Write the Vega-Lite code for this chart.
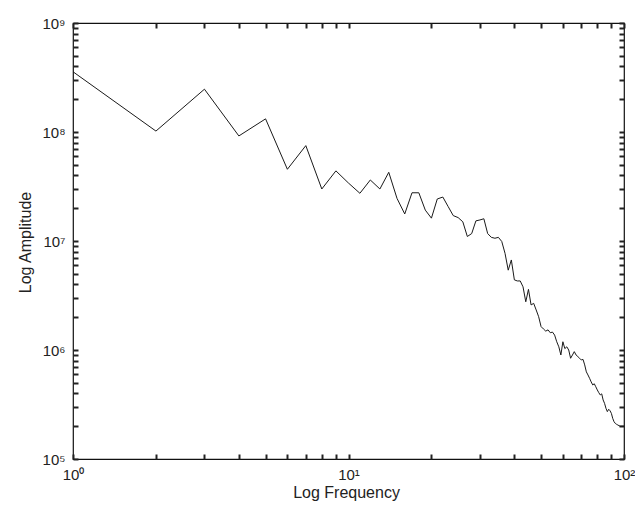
{
  "$schema": "https://vega.github.io/schema/vega-lite/v6.json",
  "width": 551,
  "height": 436,
  "autosize": {"type": "none"},
  "padding": {"left": 73, "top": 23, "right": 11, "bottom": 55},
  "background": "white",
  "config": {
    "view": {"stroke": "#111111", "strokeWidth": 1.2},
    "font": "Liberation Sans",
    "axis": {
      "grid": false,
      "domain": false,
      "offset": -5,
      "tickSize": 5,
      "tickColor": "#222222",
      "tickWidth": 2,
      "labelFont": "Liberation Sans",
      "labelFontSize": 15,
      "labelColor": "#222222",
      "labelPadding": 8,
      "labelFlush": false,
      "labelOverlap": false,
      "labelBound": false,
      "titleFont": "Liberation Sans",
      "titleFontSize": 16,
      "titleFontWeight": "normal",
      "titleColor": "#222222"
    }
  },
  "data": {
    "values": [
      {"f": 1, "amp": 357000000}, {"f": 2, "amp": 102000000}, {"f": 3, "amp": 247000000}, {"f": 4, "amp": 92000000},
      {"f": 5, "amp": 132000000}, {"f": 6, "amp": 45500000}, {"f": 7, "amp": 75000000}, {"f": 8, "amp": 30000000},
      {"f": 9, "amp": 44000000}, {"f": 10, "amp": 34000000}, {"f": 11, "amp": 27400000}, {"f": 12, "amp": 36300000},
      {"f": 13, "amp": 30000000}, {"f": 14, "amp": 42700000}, {"f": 15, "amp": 24600000}, {"f": 16, "amp": 17700000},
      {"f": 17, "amp": 27700000}, {"f": 18, "amp": 27700000}, {"f": 19, "amp": 19200000}, {"f": 20, "amp": 16200000},
      {"f": 21, "amp": 24300000}, {"f": 22, "amp": 25300000}, {"f": 23, "amp": 20700000}, {"f": 24, "amp": 17100000},
      {"f": 25, "amp": 16400000}, {"f": 26, "amp": 15000000}, {"f": 27, "amp": 11000000}, {"f": 28, "amp": 11700000},
      {"f": 29, "amp": 15300000}, {"f": 30, "amp": 15600000}, {"f": 31, "amp": 16000000}, {"f": 32, "amp": 11700000},
      {"f": 33, "amp": 10800000}, {"f": 34, "amp": 10600000}, {"f": 35, "amp": 10800000}, {"f": 36, "amp": 9900000},
      {"f": 37, "amp": 7700000}, {"f": 38, "amp": 5400000}, {"f": 39, "amp": 6700000}, {"f": 40, "amp": 4400000},
      {"f": 41, "amp": 4300000}, {"f": 42, "amp": 4300000}, {"f": 43, "amp": 3800000}, {"f": 44, "amp": 2770000},
      {"f": 45, "amp": 3600000}, {"f": 46, "amp": 2590000}, {"f": 47, "amp": 2680000}, {"f": 48, "amp": 2330000},
      {"f": 49, "amp": 2020000}, {"f": 50, "amp": 1640000}, {"f": 51, "amp": 1560000}, {"f": 52, "amp": 1490000},
      {"f": 53, "amp": 1530000}, {"f": 54, "amp": 1440000}, {"f": 55, "amp": 1460000}, {"f": 56, "amp": 1370000},
      {"f": 57, "amp": 1190000}, {"f": 58, "amp": 1070000}, {"f": 59, "amp": 900000}, {"f": 60, "amp": 1190000},
      {"f": 61, "amp": 1030000}, {"f": 62, "amp": 1070000}, {"f": 63, "amp": 1000000}, {"f": 64, "amp": 840000},
      {"f": 65, "amp": 900000}, {"f": 66, "amp": 966000}, {"f": 67, "amp": 900000}, {"f": 68, "amp": 870000},
      {"f": 69, "amp": 840000}, {"f": 70, "amp": 810000}, {"f": 71, "amp": 820000}, {"f": 72, "amp": 730000},
      {"f": 73, "amp": 630000}, {"f": 74, "amp": 590000}, {"f": 75, "amp": 550000}, {"f": 76, "amp": 510000},
      {"f": 77, "amp": 478000}, {"f": 78, "amp": 490000}, {"f": 79, "amp": 460000}, {"f": 80, "amp": 430000},
      {"f": 81, "amp": 406000}, {"f": 82, "amp": 387000}, {"f": 83, "amp": 396000}, {"f": 84, "amp": 348000},
      {"f": 85, "amp": 324000}, {"f": 86, "amp": 292000}, {"f": 87, "amp": 272000}, {"f": 88, "amp": 286000},
      {"f": 89, "amp": 277000}, {"f": 90, "amp": 262000}, {"f": 91, "amp": 236000}, {"f": 92, "amp": 220000},
      {"f": 93, "amp": 212000}, {"f": 94, "amp": 208000}, {"f": 95, "amp": 205000}, {"f": 96, "amp": 202000},
      {"f": 97, "amp": 200000}, {"f": 98, "amp": 200000}, {"f": 99, "amp": 200000}, {"f": 100, "amp": 200000}
    ]
  },
  "layer": [
    {
      "mark": {"type": "line", "color": "#1a1a1a", "strokeWidth": 1},
      "encoding": {
        "x": {
          "field": "f", "type": "quantitative",
          "scale": {"type": "log", "domain": [1, 100], "nice": false},
          "axis": {
            "orient": "bottom",
            "title": "Log Frequency",
            "values": [1,2,3,4,5,6,7,8,9,10,20,30,40,50,60,70,80,90,100],
            "labelExpr": "datum.value == 1 ? '10⁰' : datum.value == 10 ? '10¹' : datum.value == 100 ? '10²' : ''",
            "titleX": 273,
            "titleY": 43,
            "titleBaseline": "alphabetic",
            "titleAnchor": null
          }
        },
        "y": {
          "field": "amp", "type": "quantitative",
          "scale": {"type": "log", "domain": [100000, 1000000000], "nice": false},
          "axis": {
            "orient": "left",
            "title": "Log Amplitude",
            "values": [100000,200000,300000,400000,500000,600000,700000,800000,900000,1000000,2000000,3000000,4000000,5000000,6000000,7000000,8000000,9000000,10000000,20000000,30000000,40000000,50000000,60000000,70000000,80000000,90000000,100000000,200000000,300000000,400000000,500000000,600000000,700000000,800000000,900000000,1000000000],
            "labelExpr": "datum.value == 1e5 ? '10⁵' : datum.value == 1e6 ? '10⁶' : datum.value == 1e7 ? '10⁷' : datum.value == 1e8 ? '10⁸' : datum.value == 1e9 ? '10⁹' : ''",
            "titleAngle": -90,
            "titleX": -48,
            "titleY": 219,
            "titleAlign": "center",
            "titleBaseline": "alphabetic",
            "titleAnchor": null
          }
        }
      }
    },
    {
      "mark": {"type": "line", "opacity": 0},
      "encoding": {
        "x": {
          "field": "f", "type": "quantitative",
          "scale": {"type": "log", "domain": [1, 100], "nice": false},
          "axis": {
            "orient": "top", "title": null, "labels": false,
            "values": [1,2,3,4,5,6,7,8,9,10,20,30,40,50,60,70,80,90,100]
          }
        },
        "y": {
          "field": "amp", "type": "quantitative",
          "scale": {"type": "log", "domain": [100000, 1000000000], "nice": false},
          "axis": {
            "orient": "right", "title": null, "labels": false,
            "values": [100000,200000,300000,400000,500000,600000,700000,800000,900000,1000000,2000000,3000000,4000000,5000000,6000000,7000000,8000000,9000000,10000000,20000000,30000000,40000000,50000000,60000000,70000000,80000000,90000000,100000000,200000000,300000000,400000000,500000000,600000000,700000000,800000000,900000000,1000000000]
          }
        }
      }
    }
  ],
  "resolve": {"axis": {"x": "independent", "y": "independent"}}
}
